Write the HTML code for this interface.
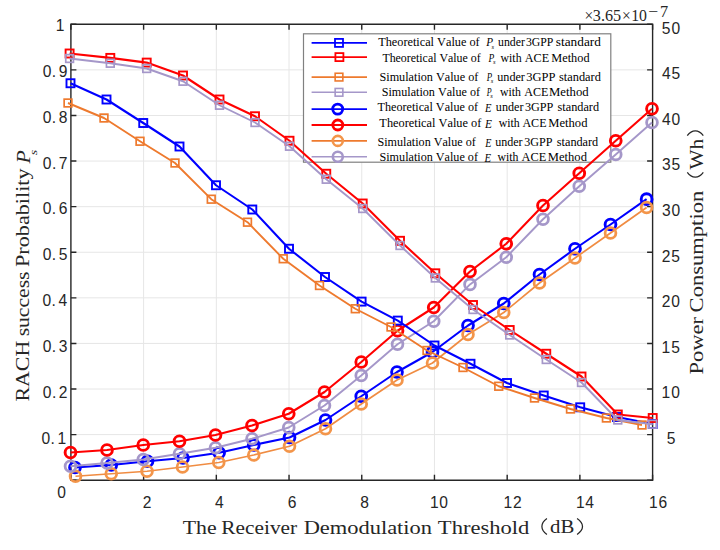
<!DOCTYPE html><html><head><meta charset="utf-8"><style>html,body{margin:0;padding:0;background:#fff;width:720px;height:550px;overflow:hidden}svg{display:block}text{font-kerning:none}</style></head><body>
<svg width="720" height="550" viewBox="0 0 720 550">
<rect width="720" height="550" fill="#fff"/>
<path d="M143.61 24.3V480.2M216.33 24.3V480.2M289.04 24.3V480.2M361.75 24.3V480.2M434.46 24.3V480.2M507.18 24.3V480.2M579.89 24.3V480.2M70.9 434.61H652.6M70.9 389.02H652.6M70.9 343.43H652.6M70.9 297.84H652.6M70.9 252.25H652.6M70.9 206.66H652.6M70.9 161.07H652.6M70.9 115.48H652.6M70.9 69.89H652.6" stroke="#e6e6e6" stroke-width="1" fill="none"/>
<path d="M70.9 24.3H652.6V480.2H70.9Z" stroke="#262626" stroke-width="1.4" fill="none"/>
<path d="M70.90 480.2v-5.5M70.90 24.3v5.5M143.61 480.2v-5.5M143.61 24.3v5.5M216.33 480.2v-5.5M216.33 24.3v5.5M289.04 480.2v-5.5M289.04 24.3v5.5M361.75 480.2v-5.5M361.75 24.3v5.5M434.46 480.2v-5.5M434.46 24.3v5.5M507.18 480.2v-5.5M507.18 24.3v5.5M579.89 480.2v-5.5M579.89 24.3v5.5M652.60 480.2v-5.5M652.60 24.3v5.5M70.9 480.20h5.5M652.6 480.20h-5.5M70.9 434.61h5.5M652.6 434.61h-5.5M70.9 389.02h5.5M652.6 389.02h-5.5M70.9 343.43h5.5M652.6 343.43h-5.5M70.9 297.84h5.5M652.6 297.84h-5.5M70.9 252.25h5.5M652.6 252.25h-5.5M70.9 206.66h5.5M652.6 206.66h-5.5M70.9 161.07h5.5M652.6 161.07h-5.5M70.9 115.48h5.5M652.6 115.48h-5.5M70.9 69.89h5.5M652.6 69.89h-5.5M70.9 24.30h5.5M652.6 24.30h-5.5" stroke="#262626" stroke-width="1.4" fill="none"/>
<rect x="303.5" y="33.8" width="307.29999999999995" height="128.39999999999998" fill="#fff" stroke="#808080" stroke-width="1.2"/>
<path d="M311.6 42.9H367.0" stroke="#0000ff" stroke-width="1.9"/>
<rect x="335.0" y="38.9" width="8.0" height="8.0" fill="none" stroke="#0000ff" stroke-width="1.8"/>
<text x="378.18" y="46.40" font-family="Liberation Serif" font-size="12.2" fill="#000" textLength="101.52" lengthAdjust="spacingAndGlyphs">Theoretical Value of</text>
<text x="486.16" y="46.40" font-family="Liberation Serif" font-size="12.2" font-style="italic" fill="#000" textLength="6.82" lengthAdjust="spacingAndGlyphs">P</text>
<text x="491.60" y="48.60" font-family="Liberation Serif" font-style="italic" font-size="6.5" fill="#000">s</text>
<text x="498.04" y="46.40" font-family="Liberation Serif" font-size="12.2" fill="#000" textLength="26.86" lengthAdjust="spacingAndGlyphs">under</text>
<text x="525.94" y="46.40" font-family="Liberation Serif" font-size="12.2" fill="#000" textLength="27.43" lengthAdjust="spacingAndGlyphs">3GPP</text>
<text x="555.86" y="46.40" font-family="Liberation Serif" font-size="12.2" fill="#000" textLength="45.01" lengthAdjust="spacingAndGlyphs">standard</text>
<path d="M311.6 57.1H367.0" stroke="#ff0000" stroke-width="1.9"/>
<rect x="335.4" y="53.1" width="8.0" height="8.0" fill="none" stroke="#ff0000" stroke-width="1.8"/>
<text x="382.39" y="61.90" font-family="Liberation Serif" font-size="12.2" fill="#000" textLength="98.31" lengthAdjust="spacingAndGlyphs">Theoretical Value of</text>
<text x="488.55" y="61.90" font-family="Liberation Serif" font-size="12.2" font-style="italic" fill="#000" textLength="5.79" lengthAdjust="spacingAndGlyphs">P</text>
<text x="493.00" y="64.10" font-family="Liberation Serif" font-style="italic" font-size="6.5" fill="#000">s</text>
<text x="500.59" y="61.90" font-family="Liberation Serif" font-size="12.2" fill="#000" textLength="20.97" lengthAdjust="spacingAndGlyphs">with</text>
<text x="524.78" y="61.90" font-family="Liberation Serif" font-size="12.2" fill="#000" textLength="24.32" lengthAdjust="spacingAndGlyphs">ACE</text>
<text x="551.35" y="61.90" font-family="Liberation Serif" font-size="12.2" fill="#000" textLength="38.20" lengthAdjust="spacingAndGlyphs">Method</text>
<path d="M311.6 77.1H367.0" stroke="#ee7a2e" stroke-width="1.6"/>
<rect x="335.15" y="73.25" width="7.7" height="7.7" fill="none" stroke="#ee7a2e" stroke-width="1.6"/>
<text x="379.48" y="80.70" font-family="Liberation Serif" font-size="12.2" fill="#000" textLength="98.82" lengthAdjust="spacingAndGlyphs">Simulation Value of</text>
<text x="486.65" y="80.70" font-family="Liberation Serif" font-size="12.2" font-style="italic" fill="#000" textLength="5.38" lengthAdjust="spacingAndGlyphs">P</text>
<text x="490.70" y="82.90" font-family="Liberation Serif" font-style="italic" font-size="6.5" fill="#000">s</text>
<text x="497.24" y="80.70" font-family="Liberation Serif" font-size="12.2" fill="#000" textLength="27.67" lengthAdjust="spacingAndGlyphs">under</text>
<text x="526.30" y="80.70" font-family="Liberation Serif" font-size="12.2" fill="#000" textLength="29.20" lengthAdjust="spacingAndGlyphs">3GPP</text>
<text x="558.99" y="80.70" font-family="Liberation Serif" font-size="12.2" fill="#000" textLength="41.86" lengthAdjust="spacingAndGlyphs">standard</text>
<path d="M311.6 92.3H367.0" stroke="#a597c9" stroke-width="1.6"/>
<rect x="335.15" y="88.45" width="7.7" height="7.7" fill="none" stroke="#a597c9" stroke-width="1.6"/>
<text x="381.69" y="95.80" font-family="Liberation Serif" font-size="12.2" fill="#000" textLength="98.31" lengthAdjust="spacingAndGlyphs">Simulation Value of</text>
<text x="486.64" y="95.80" font-family="Liberation Serif" font-size="12.2" font-style="italic" fill="#000" textLength="4.86" lengthAdjust="spacingAndGlyphs">P</text>
<text x="490.20" y="98.00" font-family="Liberation Serif" font-style="italic" font-size="6.5" fill="#000">s</text>
<text x="499.99" y="95.80" font-family="Liberation Serif" font-size="12.2" fill="#000" textLength="20.97" lengthAdjust="spacingAndGlyphs">with</text>
<text x="524.18" y="95.80" font-family="Liberation Serif" font-size="12.2" fill="#000" textLength="24.12" lengthAdjust="spacingAndGlyphs">ACE</text>
<text x="549.03" y="95.80" font-family="Liberation Serif" font-size="12.2" fill="#000" textLength="39.62" lengthAdjust="spacingAndGlyphs">Method</text>
<path d="M311.6 109.1H367.0" stroke="#0000ff" stroke-width="1.9"/>
<circle cx="337.7" cy="109.1" r="5.0" fill="none" stroke="#0000ff" stroke-width="2.8"/>
<text x="377.58" y="110.80" font-family="Liberation Serif" font-size="12.2" fill="#000" textLength="100.42" lengthAdjust="spacingAndGlyphs">Theoretical Value of</text>
<text x="485.02" y="112.30" font-family="Liberation Serif" font-size="12.2" font-style="italic" fill="#000" textLength="6.45" lengthAdjust="spacingAndGlyphs">E</text>
<text x="495.84" y="110.80" font-family="Liberation Serif" font-size="12.2" fill="#000" textLength="27.67" lengthAdjust="spacingAndGlyphs">under</text>
<text x="524.92" y="110.80" font-family="Liberation Serif" font-size="12.2" fill="#000" textLength="28.47" lengthAdjust="spacingAndGlyphs">3GPP</text>
<text x="557.60" y="110.80" font-family="Liberation Serif" font-size="12.2" fill="#000" textLength="41.45" lengthAdjust="spacingAndGlyphs">standard</text>
<path d="M311.6 125.0H367.0" stroke="#ff0000" stroke-width="1.9"/>
<circle cx="337.8" cy="125.0" r="5.0" fill="none" stroke="#ff0000" stroke-width="2.8"/>
<text x="379.38" y="126.80" font-family="Liberation Serif" font-size="12.2" fill="#000" textLength="101.92" lengthAdjust="spacingAndGlyphs">Theoretical Value of</text>
<text x="485.03" y="128.30" font-family="Liberation Serif" font-size="12.2" font-style="italic" fill="#000" textLength="6.95" lengthAdjust="spacingAndGlyphs">E</text>
<text x="498.74" y="126.80" font-family="Liberation Serif" font-size="12.2" fill="#000" textLength="21.02" lengthAdjust="spacingAndGlyphs">with</text>
<text x="522.38" y="126.80" font-family="Liberation Serif" font-size="12.2" fill="#000" textLength="24.22" lengthAdjust="spacingAndGlyphs">ACE</text>
<text x="548.24" y="126.80" font-family="Liberation Serif" font-size="12.2" fill="#000" textLength="39.22" lengthAdjust="spacingAndGlyphs">Method</text>
<path d="M311.6 140.9H367.0" stroke="#ee7a2e" stroke-width="1.6"/>
<circle cx="337.8" cy="140.9" r="5.0" fill="none" stroke="#f3954a" stroke-width="2.6"/>
<text x="377.49" y="145.60" font-family="Liberation Serif" font-size="12.2" fill="#000" textLength="98.31" lengthAdjust="spacingAndGlyphs">Simulation Value of</text>
<text x="485.32" y="147.10" font-family="Liberation Serif" font-size="12.2" font-style="italic" fill="#000" textLength="6.14" lengthAdjust="spacingAndGlyphs">E</text>
<text x="495.14" y="145.60" font-family="Liberation Serif" font-size="12.2" fill="#000" textLength="27.47" lengthAdjust="spacingAndGlyphs">under</text>
<text x="524.22" y="145.60" font-family="Liberation Serif" font-size="12.2" fill="#000" textLength="28.26" lengthAdjust="spacingAndGlyphs">3GPP</text>
<text x="556.80" y="145.60" font-family="Liberation Serif" font-size="12.2" fill="#000" textLength="41.45" lengthAdjust="spacingAndGlyphs">standard</text>
<path d="M311.6 156.8H367.0" stroke="#a597c9" stroke-width="1.6"/>
<circle cx="337.8" cy="156.8" r="5.0" fill="none" stroke="#a597c9" stroke-width="2.6"/>
<text x="379.49" y="160.60" font-family="Liberation Serif" font-size="12.2" fill="#000" textLength="98.51" lengthAdjust="spacingAndGlyphs">Simulation Value of</text>
<text x="484.43" y="162.10" font-family="Liberation Serif" font-size="12.2" font-style="italic" fill="#000" textLength="6.55" lengthAdjust="spacingAndGlyphs">E</text>
<text x="497.39" y="160.60" font-family="Liberation Serif" font-size="12.2" fill="#000" textLength="20.97" lengthAdjust="spacingAndGlyphs">with</text>
<text x="521.58" y="160.60" font-family="Liberation Serif" font-size="12.2" fill="#000" textLength="24.63" lengthAdjust="spacingAndGlyphs">ACE</text>
<text x="547.84" y="160.60" font-family="Liberation Serif" font-size="12.2" fill="#000" textLength="39.12" lengthAdjust="spacingAndGlyphs">Method</text>
<path d="M75 467.5 L111.25 465 L147.5 461.25 L183 458 L219.1 452.75 L253.75 445 L289.5 437.5 L325.5 420 L361.25 396.25 L397 372 L432.5 352 L468 325.5 L503.75 303.5 L539.5 274.5 L575 248.75 L610.5 224.5 L646.6 199.2" stroke="#0000ff" stroke-width="2.1" fill="none" stroke-linejoin="round"/>
<circle cx="75" cy="467.5" r="5.4" fill="none" stroke="#0000ff" stroke-width="2.9"/>
<circle cx="111.25" cy="465" r="5.4" fill="none" stroke="#0000ff" stroke-width="2.9"/>
<circle cx="147.5" cy="461.25" r="5.4" fill="none" stroke="#0000ff" stroke-width="2.9"/>
<circle cx="183" cy="458" r="5.4" fill="none" stroke="#0000ff" stroke-width="2.9"/>
<circle cx="219.1" cy="452.75" r="5.4" fill="none" stroke="#0000ff" stroke-width="2.9"/>
<circle cx="253.75" cy="445" r="5.4" fill="none" stroke="#0000ff" stroke-width="2.9"/>
<circle cx="289.5" cy="437.5" r="5.4" fill="none" stroke="#0000ff" stroke-width="2.9"/>
<circle cx="325.5" cy="420" r="5.4" fill="none" stroke="#0000ff" stroke-width="2.9"/>
<circle cx="361.25" cy="396.25" r="5.4" fill="none" stroke="#0000ff" stroke-width="2.9"/>
<circle cx="397" cy="372" r="5.4" fill="none" stroke="#0000ff" stroke-width="2.9"/>
<circle cx="432.5" cy="352" r="5.4" fill="none" stroke="#0000ff" stroke-width="2.9"/>
<circle cx="468" cy="325.5" r="5.4" fill="none" stroke="#0000ff" stroke-width="2.9"/>
<circle cx="503.75" cy="303.5" r="5.4" fill="none" stroke="#0000ff" stroke-width="2.9"/>
<circle cx="539.5" cy="274.5" r="5.4" fill="none" stroke="#0000ff" stroke-width="2.9"/>
<circle cx="575" cy="248.75" r="5.4" fill="none" stroke="#0000ff" stroke-width="2.9"/>
<circle cx="610.5" cy="224.5" r="5.4" fill="none" stroke="#0000ff" stroke-width="2.9"/>
<circle cx="646.6" cy="199.2" r="5.4" fill="none" stroke="#0000ff" stroke-width="2.9"/>
<path d="M75.5 476.25 L111.25 473.75 L147 471.25 L182.5 467 L218.75 462.5 L253.75 455 L289.5 446.25 L325.5 428.75 L361.25 404 L397 380 L432.5 363 L468 334.5 L503.75 312.5 L539.5 283 L575 258 L610.5 233 L646.6 207.5" stroke="#f08c42" stroke-width="1.7" fill="none" stroke-linejoin="round"/>
<circle cx="75.5" cy="476.25" r="5.4" fill="none" stroke="#f3954a" stroke-width="2.8"/>
<circle cx="111.25" cy="473.75" r="5.4" fill="none" stroke="#f3954a" stroke-width="2.8"/>
<circle cx="147" cy="471.25" r="5.4" fill="none" stroke="#f3954a" stroke-width="2.8"/>
<circle cx="182.5" cy="467" r="5.4" fill="none" stroke="#f3954a" stroke-width="2.8"/>
<circle cx="218.75" cy="462.5" r="5.4" fill="none" stroke="#f3954a" stroke-width="2.8"/>
<circle cx="253.75" cy="455" r="5.4" fill="none" stroke="#f3954a" stroke-width="2.8"/>
<circle cx="289.5" cy="446.25" r="5.4" fill="none" stroke="#f3954a" stroke-width="2.8"/>
<circle cx="325.5" cy="428.75" r="5.4" fill="none" stroke="#f3954a" stroke-width="2.8"/>
<circle cx="361.25" cy="404" r="5.4" fill="none" stroke="#f3954a" stroke-width="2.8"/>
<circle cx="397" cy="380" r="5.4" fill="none" stroke="#f3954a" stroke-width="2.8"/>
<circle cx="432.5" cy="363" r="5.4" fill="none" stroke="#f3954a" stroke-width="2.8"/>
<circle cx="468" cy="334.5" r="5.4" fill="none" stroke="#f3954a" stroke-width="2.8"/>
<circle cx="503.75" cy="312.5" r="5.4" fill="none" stroke="#f3954a" stroke-width="2.8"/>
<circle cx="539.5" cy="283" r="5.4" fill="none" stroke="#f3954a" stroke-width="2.8"/>
<circle cx="575" cy="258" r="5.4" fill="none" stroke="#f3954a" stroke-width="2.8"/>
<circle cx="610.5" cy="233" r="5.4" fill="none" stroke="#f3954a" stroke-width="2.8"/>
<circle cx="646.6" cy="207.5" r="5.4" fill="none" stroke="#f3954a" stroke-width="2.8"/>
<path d="M70.5 466.25 L107 463 L143.25 459.5 L179.5 453.75 L215.5 447.75 L252 438.75 L288.75 427.5 L324.5 405.5 L361.25 375.5 L397.5 344.25 L433.75 321.25 L470 284.4 L506.25 257.25 L543 219.25 L579.25 186.25 L615.75 154.5 L652 122.5" stroke="#a597c9" stroke-width="1.9" fill="none" stroke-linejoin="round"/>
<circle cx="70.5" cy="466.25" r="5.4" fill="none" stroke="#a597c9" stroke-width="2.8"/>
<circle cx="107" cy="463" r="5.4" fill="none" stroke="#a597c9" stroke-width="2.8"/>
<circle cx="143.25" cy="459.5" r="5.4" fill="none" stroke="#a597c9" stroke-width="2.8"/>
<circle cx="179.5" cy="453.75" r="5.4" fill="none" stroke="#a597c9" stroke-width="2.8"/>
<circle cx="215.5" cy="447.75" r="5.4" fill="none" stroke="#a597c9" stroke-width="2.8"/>
<circle cx="252" cy="438.75" r="5.4" fill="none" stroke="#a597c9" stroke-width="2.8"/>
<circle cx="288.75" cy="427.5" r="5.4" fill="none" stroke="#a597c9" stroke-width="2.8"/>
<circle cx="324.5" cy="405.5" r="5.4" fill="none" stroke="#a597c9" stroke-width="2.8"/>
<circle cx="361.25" cy="375.5" r="5.4" fill="none" stroke="#a597c9" stroke-width="2.8"/>
<circle cx="397.5" cy="344.25" r="5.4" fill="none" stroke="#a597c9" stroke-width="2.8"/>
<circle cx="433.75" cy="321.25" r="5.4" fill="none" stroke="#a597c9" stroke-width="2.8"/>
<circle cx="470" cy="284.4" r="5.4" fill="none" stroke="#a597c9" stroke-width="2.8"/>
<circle cx="506.25" cy="257.25" r="5.4" fill="none" stroke="#a597c9" stroke-width="2.8"/>
<circle cx="543" cy="219.25" r="5.4" fill="none" stroke="#a597c9" stroke-width="2.8"/>
<circle cx="579.25" cy="186.25" r="5.4" fill="none" stroke="#a597c9" stroke-width="2.8"/>
<circle cx="615.75" cy="154.5" r="5.4" fill="none" stroke="#a597c9" stroke-width="2.8"/>
<circle cx="652" cy="122.5" r="5.4" fill="none" stroke="#a597c9" stroke-width="2.8"/>
<path d="M70.5 452.5 L107 450 L143.25 445 L179.5 441.25 L215.5 435 L252 425.5 L288.75 413.75 L324.5 392 L361.25 362 L397.5 330.75 L433.75 307.5 L470 271.5 L506.25 243.75 L543 205.5 L579.25 173.25 L615.75 140.75 L652 108.75" stroke="#ff0000" stroke-width="2.1" fill="none" stroke-linejoin="round"/>
<circle cx="70.5" cy="452.5" r="5.4" fill="none" stroke="#ff0000" stroke-width="2.9"/>
<circle cx="107" cy="450" r="5.4" fill="none" stroke="#ff0000" stroke-width="2.9"/>
<circle cx="143.25" cy="445" r="5.4" fill="none" stroke="#ff0000" stroke-width="2.9"/>
<circle cx="179.5" cy="441.25" r="5.4" fill="none" stroke="#ff0000" stroke-width="2.9"/>
<circle cx="215.5" cy="435" r="5.4" fill="none" stroke="#ff0000" stroke-width="2.9"/>
<circle cx="252" cy="425.5" r="5.4" fill="none" stroke="#ff0000" stroke-width="2.9"/>
<circle cx="288.75" cy="413.75" r="5.4" fill="none" stroke="#ff0000" stroke-width="2.9"/>
<circle cx="324.5" cy="392" r="5.4" fill="none" stroke="#ff0000" stroke-width="2.9"/>
<circle cx="361.25" cy="362" r="5.4" fill="none" stroke="#ff0000" stroke-width="2.9"/>
<circle cx="397.5" cy="330.75" r="5.4" fill="none" stroke="#ff0000" stroke-width="2.9"/>
<circle cx="433.75" cy="307.5" r="5.4" fill="none" stroke="#ff0000" stroke-width="2.9"/>
<circle cx="470" cy="271.5" r="5.4" fill="none" stroke="#ff0000" stroke-width="2.9"/>
<circle cx="506.25" cy="243.75" r="5.4" fill="none" stroke="#ff0000" stroke-width="2.9"/>
<circle cx="543" cy="205.5" r="5.4" fill="none" stroke="#ff0000" stroke-width="2.9"/>
<circle cx="579.25" cy="173.25" r="5.4" fill="none" stroke="#ff0000" stroke-width="2.9"/>
<circle cx="615.75" cy="140.75" r="5.4" fill="none" stroke="#ff0000" stroke-width="2.9"/>
<circle cx="652" cy="108.75" r="5.4" fill="none" stroke="#ff0000" stroke-width="2.9"/>
<path d="M70.5 83.25 L106.5 99.5 L143.25 123 L179.5 146.5 L216 185.25 L252.3 209.5 L289 248.75 L325 277 L361.6 301.6 L397.8 320.6 L434.5 345.5 L470.5 363.75 L507 383 L543.75 395.5 L580.2 407.3 L617 417 L652.7 424" stroke="#0000ff" stroke-width="2.1" fill="none" stroke-linejoin="round"/>
<rect x="66.50" y="79.25" width="8.0" height="8.0" fill="none" stroke="#0000ff" stroke-width="1.9"/>
<rect x="102.50" y="95.50" width="8.0" height="8.0" fill="none" stroke="#0000ff" stroke-width="1.9"/>
<rect x="139.25" y="119.00" width="8.0" height="8.0" fill="none" stroke="#0000ff" stroke-width="1.9"/>
<rect x="175.50" y="142.50" width="8.0" height="8.0" fill="none" stroke="#0000ff" stroke-width="1.9"/>
<rect x="212.00" y="181.25" width="8.0" height="8.0" fill="none" stroke="#0000ff" stroke-width="1.9"/>
<rect x="248.30" y="205.50" width="8.0" height="8.0" fill="none" stroke="#0000ff" stroke-width="1.9"/>
<rect x="285.00" y="244.75" width="8.0" height="8.0" fill="none" stroke="#0000ff" stroke-width="1.9"/>
<rect x="321.00" y="273.00" width="8.0" height="8.0" fill="none" stroke="#0000ff" stroke-width="1.9"/>
<rect x="357.60" y="297.60" width="8.0" height="8.0" fill="none" stroke="#0000ff" stroke-width="1.9"/>
<rect x="393.80" y="316.60" width="8.0" height="8.0" fill="none" stroke="#0000ff" stroke-width="1.9"/>
<rect x="430.50" y="341.50" width="8.0" height="8.0" fill="none" stroke="#0000ff" stroke-width="1.9"/>
<rect x="466.50" y="359.75" width="8.0" height="8.0" fill="none" stroke="#0000ff" stroke-width="1.9"/>
<rect x="503.00" y="379.00" width="8.0" height="8.0" fill="none" stroke="#0000ff" stroke-width="1.9"/>
<rect x="539.75" y="391.50" width="8.0" height="8.0" fill="none" stroke="#0000ff" stroke-width="1.9"/>
<rect x="576.20" y="403.30" width="8.0" height="8.0" fill="none" stroke="#0000ff" stroke-width="1.9"/>
<rect x="613.00" y="413.00" width="8.0" height="8.0" fill="none" stroke="#0000ff" stroke-width="1.9"/>
<rect x="648.70" y="420.00" width="8.0" height="8.0" fill="none" stroke="#0000ff" stroke-width="1.9"/>
<path d="M69.6 53.5 L110.3 57.9 L146.7 62.6 L183 75.5 L219.5 99.5 L255 116.25 L289.5 140.75 L326.25 173.75 L362.7 203.5 L400 240.8 L435.3 273.3 L473 305 L509.7 330 L546.25 353.75 L581.5 376.5 L617.8 414.5 L652.7 418" stroke="#ff0000" stroke-width="2.1" fill="none" stroke-linejoin="round"/>
<rect x="65.60" y="49.50" width="8.0" height="8.0" fill="none" stroke="#ff0000" stroke-width="1.9"/>
<rect x="106.30" y="53.90" width="8.0" height="8.0" fill="none" stroke="#ff0000" stroke-width="1.9"/>
<rect x="142.70" y="58.60" width="8.0" height="8.0" fill="none" stroke="#ff0000" stroke-width="1.9"/>
<rect x="179.00" y="71.50" width="8.0" height="8.0" fill="none" stroke="#ff0000" stroke-width="1.9"/>
<rect x="215.50" y="95.50" width="8.0" height="8.0" fill="none" stroke="#ff0000" stroke-width="1.9"/>
<rect x="251.00" y="112.25" width="8.0" height="8.0" fill="none" stroke="#ff0000" stroke-width="1.9"/>
<rect x="285.50" y="136.75" width="8.0" height="8.0" fill="none" stroke="#ff0000" stroke-width="1.9"/>
<rect x="322.25" y="169.75" width="8.0" height="8.0" fill="none" stroke="#ff0000" stroke-width="1.9"/>
<rect x="358.70" y="199.50" width="8.0" height="8.0" fill="none" stroke="#ff0000" stroke-width="1.9"/>
<rect x="396.00" y="236.80" width="8.0" height="8.0" fill="none" stroke="#ff0000" stroke-width="1.9"/>
<rect x="431.30" y="269.30" width="8.0" height="8.0" fill="none" stroke="#ff0000" stroke-width="1.9"/>
<rect x="469.00" y="301.00" width="8.0" height="8.0" fill="none" stroke="#ff0000" stroke-width="1.9"/>
<rect x="505.70" y="326.00" width="8.0" height="8.0" fill="none" stroke="#ff0000" stroke-width="1.9"/>
<rect x="542.25" y="349.75" width="8.0" height="8.0" fill="none" stroke="#ff0000" stroke-width="1.9"/>
<rect x="577.50" y="372.50" width="8.0" height="8.0" fill="none" stroke="#ff0000" stroke-width="1.9"/>
<rect x="613.80" y="410.50" width="8.0" height="8.0" fill="none" stroke="#ff0000" stroke-width="1.9"/>
<rect x="648.70" y="414.00" width="8.0" height="8.0" fill="none" stroke="#ff0000" stroke-width="1.9"/>
<path d="M68 103 L104 118 L140 141.25 L175 163 L211.25 199.2 L247.5 222.2 L283.25 258.75 L319.5 285.5 L355.3 308.75 L391 327 L427 350.5 L463 367.5 L498.75 386.25 L534.5 398 L570.5 409 L606.4 418 L642 425" stroke="#ee7a2e" stroke-width="1.9" fill="none" stroke-linejoin="round"/>
<rect x="64.15" y="99.15" width="7.7" height="7.7" fill="none" stroke="#ee7a2e" stroke-width="1.7"/>
<rect x="100.15" y="114.15" width="7.7" height="7.7" fill="none" stroke="#ee7a2e" stroke-width="1.7"/>
<rect x="136.15" y="137.40" width="7.7" height="7.7" fill="none" stroke="#ee7a2e" stroke-width="1.7"/>
<rect x="171.15" y="159.15" width="7.7" height="7.7" fill="none" stroke="#ee7a2e" stroke-width="1.7"/>
<rect x="207.40" y="195.35" width="7.7" height="7.7" fill="none" stroke="#ee7a2e" stroke-width="1.7"/>
<rect x="243.65" y="218.35" width="7.7" height="7.7" fill="none" stroke="#ee7a2e" stroke-width="1.7"/>
<rect x="279.40" y="254.90" width="7.7" height="7.7" fill="none" stroke="#ee7a2e" stroke-width="1.7"/>
<rect x="315.65" y="281.65" width="7.7" height="7.7" fill="none" stroke="#ee7a2e" stroke-width="1.7"/>
<rect x="351.45" y="304.90" width="7.7" height="7.7" fill="none" stroke="#ee7a2e" stroke-width="1.7"/>
<rect x="387.15" y="323.15" width="7.7" height="7.7" fill="none" stroke="#ee7a2e" stroke-width="1.7"/>
<rect x="423.15" y="346.65" width="7.7" height="7.7" fill="none" stroke="#ee7a2e" stroke-width="1.7"/>
<rect x="459.15" y="363.65" width="7.7" height="7.7" fill="none" stroke="#ee7a2e" stroke-width="1.7"/>
<rect x="494.90" y="382.40" width="7.7" height="7.7" fill="none" stroke="#ee7a2e" stroke-width="1.7"/>
<rect x="530.65" y="394.15" width="7.7" height="7.7" fill="none" stroke="#ee7a2e" stroke-width="1.7"/>
<rect x="566.65" y="405.15" width="7.7" height="7.7" fill="none" stroke="#ee7a2e" stroke-width="1.7"/>
<rect x="602.55" y="414.15" width="7.7" height="7.7" fill="none" stroke="#ee7a2e" stroke-width="1.7"/>
<rect x="638.15" y="421.15" width="7.7" height="7.7" fill="none" stroke="#ee7a2e" stroke-width="1.7"/>
<path d="M69.6 58.5 L110.3 63.25 L146.7 68.5 L183 81.25 L219.5 105.25 L255 122.5 L289.5 146.25 L326.25 179.25 L362.7 208.5 L400 245.5 L435.3 278 L473 309.5 L509.7 335 L546.25 359.5 L581.5 382.5 L617.8 420 L652.7 424.2" stroke="#a597c9" stroke-width="1.9" fill="none" stroke-linejoin="round"/>
<rect x="65.75" y="54.65" width="7.7" height="7.7" fill="none" stroke="#a597c9" stroke-width="1.7"/>
<rect x="106.45" y="59.40" width="7.7" height="7.7" fill="none" stroke="#a597c9" stroke-width="1.7"/>
<rect x="142.85" y="64.65" width="7.7" height="7.7" fill="none" stroke="#a597c9" stroke-width="1.7"/>
<rect x="179.15" y="77.40" width="7.7" height="7.7" fill="none" stroke="#a597c9" stroke-width="1.7"/>
<rect x="215.65" y="101.40" width="7.7" height="7.7" fill="none" stroke="#a597c9" stroke-width="1.7"/>
<rect x="251.15" y="118.65" width="7.7" height="7.7" fill="none" stroke="#a597c9" stroke-width="1.7"/>
<rect x="285.65" y="142.40" width="7.7" height="7.7" fill="none" stroke="#a597c9" stroke-width="1.7"/>
<rect x="322.40" y="175.40" width="7.7" height="7.7" fill="none" stroke="#a597c9" stroke-width="1.7"/>
<rect x="358.85" y="204.65" width="7.7" height="7.7" fill="none" stroke="#a597c9" stroke-width="1.7"/>
<rect x="396.15" y="241.65" width="7.7" height="7.7" fill="none" stroke="#a597c9" stroke-width="1.7"/>
<rect x="431.45" y="274.15" width="7.7" height="7.7" fill="none" stroke="#a597c9" stroke-width="1.7"/>
<rect x="469.15" y="305.65" width="7.7" height="7.7" fill="none" stroke="#a597c9" stroke-width="1.7"/>
<rect x="505.85" y="331.15" width="7.7" height="7.7" fill="none" stroke="#a597c9" stroke-width="1.7"/>
<rect x="542.40" y="355.65" width="7.7" height="7.7" fill="none" stroke="#a597c9" stroke-width="1.7"/>
<rect x="577.65" y="378.65" width="7.7" height="7.7" fill="none" stroke="#a597c9" stroke-width="1.7"/>
<rect x="613.95" y="416.15" width="7.7" height="7.7" fill="none" stroke="#a597c9" stroke-width="1.7"/>
<rect x="648.85" y="420.35" width="7.7" height="7.7" fill="none" stroke="#a597c9" stroke-width="1.7"/>
<text x="41.48" y="443.69" font-family="Liberation Sans" font-size="15.6" fill="#262626">0<tspan dx="0.4">.</tspan><tspan dx="2.6">1</tspan></text>
<text x="42.80" y="397.85" font-family="Liberation Sans" font-size="15.6" fill="#262626">0<tspan dx="0.4">.</tspan><tspan dx="2.6">2</tspan></text>
<text x="42.70" y="352.01" font-family="Liberation Sans" font-size="15.6" fill="#262626">0<tspan dx="0.4">.</tspan><tspan dx="2.6">3</tspan></text>
<text x="42.47" y="306.17" font-family="Liberation Sans" font-size="15.6" fill="#262626">0<tspan dx="0.4">.</tspan><tspan dx="2.6">4</tspan></text>
<text x="42.67" y="260.33" font-family="Liberation Sans" font-size="15.6" fill="#262626">0<tspan dx="0.4">.</tspan><tspan dx="2.6">5</tspan></text>
<text x="42.70" y="214.49" font-family="Liberation Sans" font-size="15.6" fill="#262626">0<tspan dx="0.4">.</tspan><tspan dx="2.6">6</tspan></text>
<text x="42.80" y="168.65" font-family="Liberation Sans" font-size="15.6" fill="#262626">0<tspan dx="0.4">.</tspan><tspan dx="2.6">7</tspan></text>
<text x="42.69" y="122.81" font-family="Liberation Sans" font-size="15.6" fill="#262626">0<tspan dx="0.4">.</tspan><tspan dx="2.6">8</tspan></text>
<text x="42.75" y="76.97" font-family="Liberation Sans" font-size="15.6" fill="#262626">0<tspan dx="0.4">.</tspan><tspan dx="2.6">9</tspan></text>
<text x="55.69" y="31.48" font-family="Liberation Sans" font-size="15.6" fill="#262626">1</text>
<text x="57.13" y="497.68" font-family="Liberation Sans" font-size="15.6" fill="#262626">0</text>
<text x="142.76" y="507.88" font-family="Liberation Sans" font-size="15.6" fill="#262626" letter-spacing="0.7">2</text>
<text x="214.91" y="507.88" font-family="Liberation Sans" font-size="15.6" fill="#262626" letter-spacing="0.7">4</text>
<text x="287.81" y="507.88" font-family="Liberation Sans" font-size="15.6" fill="#262626" letter-spacing="0.7">6</text>
<text x="360.16" y="507.88" font-family="Liberation Sans" font-size="15.6" fill="#262626" letter-spacing="0.7">8</text>
<text x="429.98" y="507.88" font-family="Liberation Sans" font-size="15.6" fill="#262626" letter-spacing="0.7">10</text>
<text x="503.57" y="507.88" font-family="Liberation Sans" font-size="15.6" fill="#262626" letter-spacing="0.7">12</text>
<text x="575.91" y="507.88" font-family="Liberation Sans" font-size="15.6" fill="#262626" letter-spacing="0.7">14</text>
<text x="649.12" y="507.88" font-family="Liberation Sans" font-size="15.6" fill="#262626" letter-spacing="0.7">16</text>
<text x="666.68" y="443.99" font-family="Liberation Sans" font-size="15.6" fill="#262626" letter-spacing="0.9">5</text>
<text x="661.58" y="398.40" font-family="Liberation Sans" font-size="15.6" fill="#262626" letter-spacing="0.9">10</text>
<text x="661.61" y="352.81" font-family="Liberation Sans" font-size="15.6" fill="#262626" letter-spacing="0.9">15</text>
<text x="661.79" y="307.22" font-family="Liberation Sans" font-size="15.6" fill="#262626" letter-spacing="0.9">20</text>
<text x="661.81" y="261.63" font-family="Liberation Sans" font-size="15.6" fill="#262626" letter-spacing="0.9">25</text>
<text x="661.88" y="216.04" font-family="Liberation Sans" font-size="15.6" fill="#262626" letter-spacing="0.9">30</text>
<text x="661.90" y="170.45" font-family="Liberation Sans" font-size="15.6" fill="#262626" letter-spacing="0.9">35</text>
<text x="662.00" y="124.86" font-family="Liberation Sans" font-size="15.6" fill="#262626" letter-spacing="0.9">40</text>
<text x="662.02" y="79.27" font-family="Liberation Sans" font-size="15.6" fill="#262626" letter-spacing="0.9">45</text>
<text x="661.87" y="33.68" font-family="Liberation Sans" font-size="15.6" fill="#262626" letter-spacing="0.9">50</text>
<text x="182.81" y="533.70" font-family="Liberation Serif" font-size="19.8" fill="#262626" textLength="33.85" lengthAdjust="spacingAndGlyphs">The</text>
<text x="221.39" y="533.70" font-family="Liberation Serif" font-size="19.8" fill="#262626" textLength="75.80" lengthAdjust="spacingAndGlyphs">Receiver</text>
<text x="303.65" y="533.70" font-family="Liberation Serif" font-size="19.8" fill="#262626" textLength="128.39" lengthAdjust="spacingAndGlyphs">Demodulation</text>
<text x="437.89" y="533.70" font-family="Liberation Serif" font-size="19.8" fill="#262626" textLength="91.48" lengthAdjust="spacingAndGlyphs">Threshold</text>
<text x="550.05" y="533.20" font-family="Liberation Serif" font-size="19.8" fill="#262626" textLength="24.27" lengthAdjust="spacingAndGlyphs">dB</text>
<path d="M546.9 518.6C543.2 521.2 541.9 523.8 541.9 526.5C541.9 529.2 543.2 531.8 546.9 534.4M577.1 518.6C580.8 521.2 582.5 523.8 582.5 526.5C582.5 529.2 580.8 531.8 577.1 534.4" stroke="#262626" stroke-width="1.25" fill="none"/>
<text transform="translate(29.00 0) rotate(-90)" x="-401.53" y="0.00" font-family="Liberation Serif" font-size="19.8" fill="#262626" textLength="60.77" lengthAdjust="spacingAndGlyphs">RACH</text>
<text transform="translate(29.00 0) rotate(-90)" x="-336.39" y="0.00" font-family="Liberation Serif" font-size="19.8" fill="#262626" textLength="64.87" lengthAdjust="spacingAndGlyphs">success</text>
<text transform="translate(29.00 0) rotate(-90)" x="-267.04" y="0.00" font-family="Liberation Serif" font-size="19.8" fill="#262626" textLength="98.63" lengthAdjust="spacingAndGlyphs">Probability</text>
<text transform="translate(29.50 0) rotate(-90)" x="-163.48" y="0.00" font-family="Liberation Serif" font-size="19.8" font-style="italic" fill="#262626" textLength="13.23" lengthAdjust="spacingAndGlyphs">P</text>
<text transform="translate(36.60 0) rotate(-90)" x="-155.17" y="0.00" font-family="Liberation Serif" font-size="11" font-style="italic" fill="#262626" textLength="5.50" lengthAdjust="spacingAndGlyphs">s</text>
<text transform="translate(703.00 0) rotate(-90)" x="-374.45" y="0.00" font-family="Liberation Serif" font-size="19.8" fill="#262626" textLength="57.45" lengthAdjust="spacingAndGlyphs">Power</text>
<text transform="translate(703.00 0) rotate(-90)" x="-312.43" y="0.00" font-family="Liberation Serif" font-size="19.8" fill="#262626" textLength="121.67" lengthAdjust="spacingAndGlyphs">Consumption</text>
<text transform="translate(703.00 0) rotate(-90)" x="-169.62" y="0.00" font-family="Liberation Serif" font-size="19.8" fill="#262626" textLength="30.70" lengthAdjust="spacingAndGlyphs">Wh</text>
<path d="M687.3 172.4C689.9 176.0 692.6 177.1 695.3 177.1C698.0 177.1 700.7 176.0 703.3 172.4M687.3 135.6C689.9 132.0 692.6 130.8 695.3 130.8C698.0 130.8 700.7 132.0 703.3 135.6" stroke="#262626" stroke-width="1.25" fill="none"/>
<text x="584.57" y="20.50" font-family="Liberation Serif" font-size="16.0" fill="#262626" textLength="8.74" lengthAdjust="spacingAndGlyphs">×</text>
<text x="592.83" y="21.00" font-family="Liberation Serif" font-size="16.0" fill="#262626" textLength="28.31" lengthAdjust="spacingAndGlyphs">3.65</text>
<text x="622.07" y="20.50" font-family="Liberation Serif" font-size="16.0" fill="#262626" textLength="8.74" lengthAdjust="spacingAndGlyphs">×</text>
<text x="631.21" y="21.20" font-family="Liberation Serif" font-size="16.0" fill="#262626" textLength="15.79" lengthAdjust="spacingAndGlyphs">10</text>
<text x="648.32" y="17.00" font-family="Liberation Serif" font-size="16.0" fill="#262626" textLength="9.94" lengthAdjust="spacingAndGlyphs">−</text>
<text x="659.93" y="16.80" font-family="Liberation Serif" font-size="16.0" fill="#262626" textLength="8.14" lengthAdjust="spacingAndGlyphs">7</text>
</svg></body></html>
